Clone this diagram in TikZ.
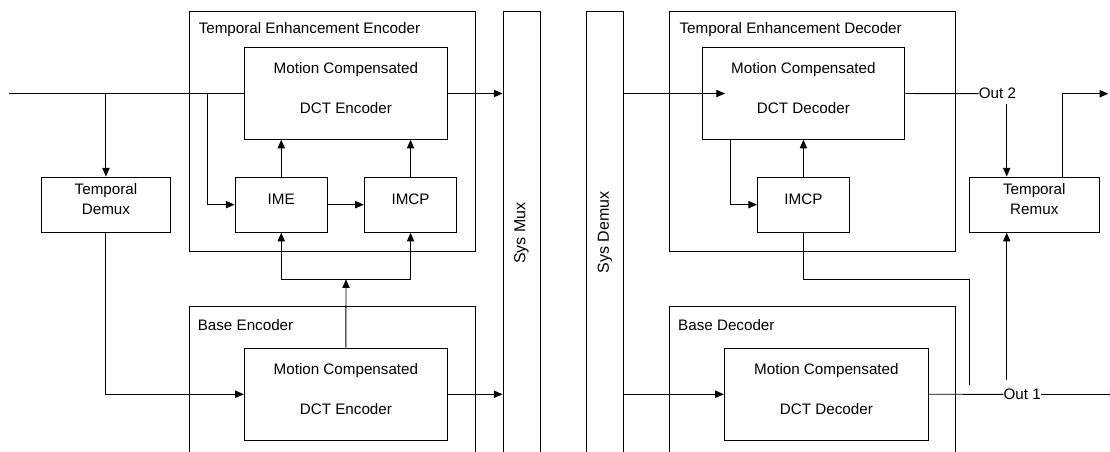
\documentclass[tikz,border=0pt]{standalone}
\usepackage{fontspec}
\setmainfont{Liberation Sans}
\usetikzlibrary{arrows.meta,fit}
\begin{document}
\begin{tikzpicture}[x=0.75pt,y=-0.75pt,
  font=\fontsize{11.4}{15}\selectfont,
  ln/.style={line width=0.7pt},
  arr/.style={ln,-{Triangle[length=6.5pt,width=5.5pt]}},
  box/.style={draw,ln,inner sep=0pt,align=center,text depth=0pt},
  big/.style={box,font=\fontsize{11.4}{30}\selectfont},
  lbl/.style={inner sep=0pt,anchor=base west},
  vlbl/.style={rotate=90,inner sep=0pt,font=\fontsize{12}{14}\selectfont}
]
\useasboundingbox (0,0) rectangle (1110,451);
\begin{scope}
\clip (0,0) rectangle (1110,451);
% ---------- encoder side ----------
\node[box,fit={(189.3,11)(475.5,251)}] (tee) {};
\node[lbl] (teet) at (198.5,33.5) {Temporal Enhancement Encoder};
\node[big,fit={(244.3,47.7)(447.5,139.3)}] (mce) {Motion Compensated\\DCT Encoder};
\node[box,fit={(41.4,177)(170.5,232.5)}] (demux) {Temporal\\Demux};
\node[box,fit={(235,177)(327.5,232.3)}] (ime) {IME};
\node[box,fit={(364.3,177)(456.8,232.3)}] (imcp) {IMCP};
\node[box,fit={(503,11)(540,470)}] (sysmux) {};
\node[vlbl] (sysmuxt) at (521.5,233) {Sys Mux};
\node[box,fit={(189.3,306.7)(475.5,470)}] (be) {};
\node[lbl] (bet) at (197.5,330.4) {Base Encoder};
\node[big,fit={(244.3,348)(447.5,440.5)}] (bmce) {Motion Compensated\\DCT Encoder};
% ---------- decoder side ----------
\node[box,fit={(586.4,11)(623.5,470)}] (sysdemux) {};
\node[vlbl] (sysdemuxt) at (605,232.5) {Sys Demux};
\node[box,fit={(669.5,11)(955.5,251)}] (ted) {};
\node[lbl] (tedt) at (679.3,33.5) {Temporal Enhancement Decoder};
\node[big,fit={(702,47.7)(904.8,139.3)}] (mcd) {Motion Compensated\\DCT Decoder};
\node[box,fit={(757.5,177)(849.3,232.3)}] (imcpd) {IMCP};
\node[box,fit={(969.3,177)(1099.3,232.3)}] (remux) {Temporal\\Remux};
\node[box,fit={(669.5,306.7)(955.5,470)}] (bd) {};
\node[lbl] (bdt) at (677.9,330.4) {Base Decoder};
\node[big,fit={(724.3,348)(928.5,440.5)}] (bmcd) {Motion Compensated\\DCT Decoder};
\node[inner sep=0pt] (out2) at (997.5,93.7) {Out 2};
\node[inner sep=0pt] (out1) at (1022.2,394.3) {Out 1};
% ---------- coordinates ----------
\coordinate (in) at (9,93.5);
\coordinate (b1) at (207.1,93.5);
\coordinate (j) at (346,279.3);
\coordinate (dtip) at (725,93.5);
\coordinate (md1) at (730.4,139.3);
\coordinate (c1) at (969.5,279.3);
\coordinate (c2) at (969.5,385);
\coordinate (o2d) at (1006.7,104.3);
\coordinate (o1u) at (1006.7,380);
\coordinate (rx) at (1062.3,177);
\coordinate (outR) at (1108.3,93.7);
\coordinate (out1e) at (1118.5,394.3);
% ---------- encoder connectors ----------
\draw[ln] (in) -- (mce.west);
\draw[arr] (in -| demux.north) -- (demux.north);
\draw[arr] (b1) |- (ime.west);
\draw[arr] (ime) -- (imcp);
\draw[arr] (ime.north) -- (ime.north |- mce.south);
\draw[arr] (imcp.north) -- (imcp.north |- mce.south);
\draw[arr] (mce.east) -- (mce.east -| sysmux.west);
\draw[arr] (demux.south) |- (bmce.west);
\draw[arr] (bmce.east) -- (bmce.east -| sysmux.west);
\draw[arr] (bmce.north) -- (j);
\draw[arr] (j) -| (ime.south);
\draw[arr] (j) -| (imcp.south);
% ---------- decoder connectors ----------
\draw[arr] (mcd.west -| sysdemux.east) -- (dtip);
\draw[arr] (md1) |- (imcpd.west);
\draw[arr] (imcpd.north) -- (imcpd.north |- mcd.south);
\draw[ln] (imcpd.south) |- (c1) -- (c2);
\draw[ln] (mcd.east) -- (out2.west);
\draw[arr] (o2d) -- (o2d |- remux.north);
\draw[arr] (rx) |- (outR);
\draw[arr] (bmcd.west -| sysdemux.east) -- (bmcd.west);
\draw[ln] (bmcd.east) -- (out1.west);
\draw[arr] (out1.east) -- (out1e);
\draw[arr] (o1u) -- (o1u |- remux.south);
\end{scope}
\end{tikzpicture}
\end{document}
